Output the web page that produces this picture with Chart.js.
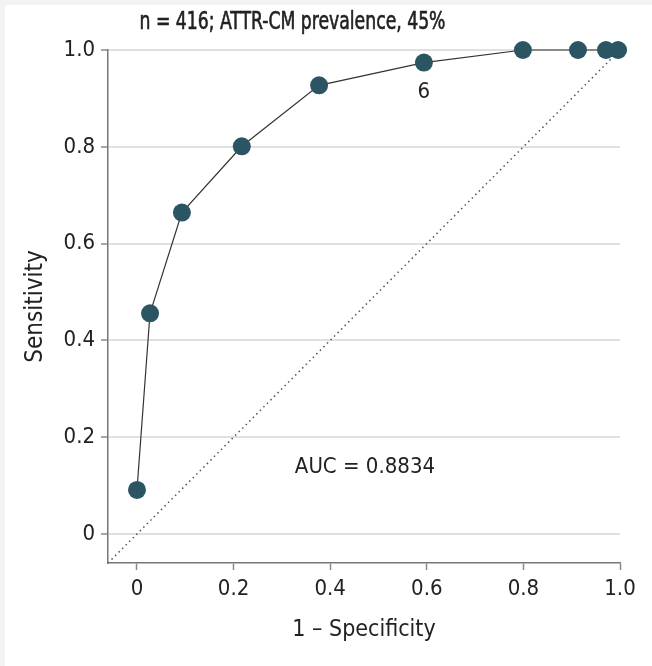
<!DOCTYPE html>
<html>
<head>
<meta charset="utf-8">
<script src="https://cdn.jsdelivr.net/npm/chart.js@4/dist/chart.umd.min.js"></script>
<style>
  html, body { margin: 0; padding: 0; background: #f3f3f3; }
  #wrap { position: absolute; left: 5px; top: 5px; width: 647px; height: 661px; background: #fff; }
</style>
</head>
<body>
<div id="wrap"><canvas id="roc"></canvas></div>
<script>
// ROC points (1 - specificity, sensitivity)
const fpr = [0, 0.027, 0.093, 0.217, 0.377, 0.594, 0.799, 0.913, 0.971, 0.996];
const tpr = [0.091, 0.456, 0.664, 0.801, 0.927, 0.974, 1.0, 1.0, 1.0, 1.0];
const refLineX = [-0.06, 1.0];
const refLineY = [-0.06, 1.0];
const tickValues = [0, 0.2, 0.4, 0.6, 0.8, 1.0];
const titleText = 'n = 416; ATTR-CM prevalence, 45%';
const aucText = 'AUC = 0.8834';
const pointLabel = '6';
const pointLabelIndex = 5;

const FONT = "'DejaVu Sans Condensed', 'DejaVu Sans', sans-serif";

const fmt = v => v === 0 ? '0' : v.toFixed(1);

// text overlays (title, point label, AUC)
const textPlugin = {
    id: 'texts',
    afterDraw(chart) {
        const ctx = chart.ctx;
        const xs = chart.scales.x, ys = chart.scales.y;
        ctx.save();
        ctx.fillStyle = '#222';
        ctx.textAlign = 'center';
        ctx.textBaseline = 'middle';
        // title is set in a narrow face, squeeze it to the same width
        ctx.save();
        ctx.font = '24px ' + FONT;
        const w = ctx.measureText(titleText).width;
        const sx = 306 / w;
        ctx.translate(287.5, 18);
        ctx.scale(sx, 1);
        ctx.strokeStyle = '#222';
        ctx.lineWidth = 0.6;
        ctx.fillText(titleText, 0, 0);
        ctx.strokeText(titleText, 0, 0);
        ctx.restore();
        ctx.font = '22px ' + FONT;
        ctx.fillText(pointLabel, xs.getPixelForValue(fpr[pointLabelIndex]), ys.getPixelForValue(tpr[pointLabelIndex]) + 30);
        ctx.fillText(aucText, xs.getPixelForValue(0.472), ys.getPixelForValue(0.138));
        ctx.restore();
    }
};

new Chart(document.getElementById('roc').getContext('2d'), {
    type: 'scatter',
    data: {
        datasets: [{
            data: fpr.map((x, i) => ({ x, y: tpr[i] })),
            showLine: true,
            borderColor: '#333',
            borderWidth: 1.2,
            backgroundColor: '#2c5563',
            pointBackgroundColor: '#2c5563',
            pointBorderWidth: 0,
            pointRadius: 9,
            clip: false
        }, {
            data: refLineX.map((x, i) => ({ x, y: refLineY[i] })),
            showLine: true,
            borderColor: '#555',
            borderWidth: 1.5,
            borderDash: [1.5, 3.5],
            pointRadius: 0
        }]
    },
    options: {
        responsive: true,
        maintainAspectRatio: false,
        animation: false,
        layout: { padding: { top: 45, right: 32, left: 12, bottom: 18 } },
        plugins: { legend: { display: false }, tooltip: { enabled: false } },
        scales: {
            x: {
                type: 'linear',
                min: -0.06,
                max: 1.0,
                afterBuildTicks: s => { s.ticks = tickValues.map(value => ({ value })); },
                afterFit: s => { s.height = 85; },
                ticks: { callback: fmt, color: '#222', font: { family: FONT, size: 22 }, padding: 6, maxRotation: 0 },
                grid: { drawOnChartArea: false, tickColor: '#888', tickLength: 7, tickWidth: 1.5 },
                border: { color: '#777', width: 1.5 },
                title: { display: true, text: '1 – Specificity', color: '#222', font: { family: FONT, size: 23 }, padding: { top: 4 } }
            },
            y: {
                type: 'linear',
                min: -0.06,
                max: 1.0,
                afterBuildTicks: s => { s.ticks = tickValues.map(value => ({ value })); },
                afterFit: s => { s.width = 91; },
                ticks: { callback: fmt, color: '#222', font: { family: FONT, size: 22 }, padding: 6 },
                grid: { color: '#e0e0e0', lineWidth: 2, tickColor: '#888', tickLength: 7, tickWidth: 1.5 },
                border: { color: '#777', width: 1.5 },
                title: { display: true, text: 'Sensitivity', color: '#222', font: { family: FONT, size: 24 }, padding: { bottom: 6 } }
            }
        }
    },
    plugins: [textPlugin]
});
</script>
</body>
</html>
